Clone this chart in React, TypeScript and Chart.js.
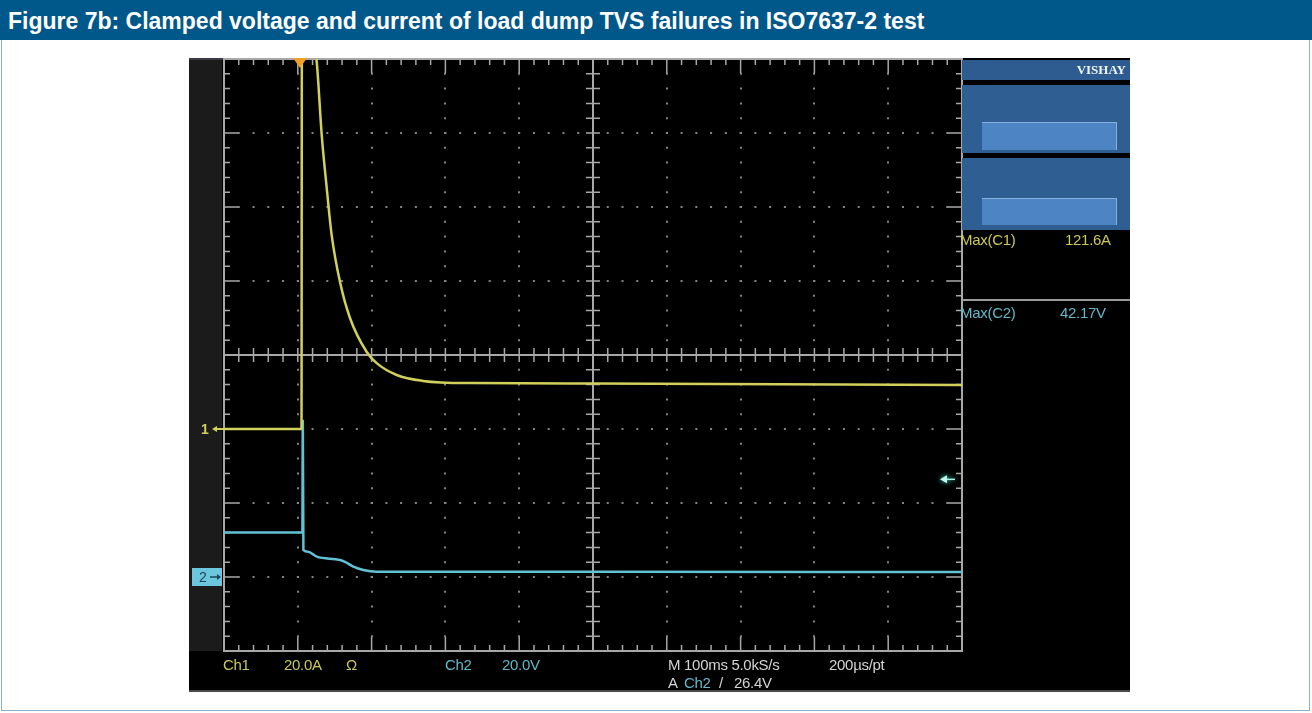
import React, { useEffect, useRef } from 'react';
import { Chart, registerables } from 'chart.js';

Chart.register(...registerables);

// ---- scope settings ----
const TIME_MIN = -100; // ms (100 ms/div, 10 divisions)
const TIME_MAX = 900;
const TIME_STEP = 100;
const CURRENT_MIN = -60; // A (Ch1, 20 A/div, 8 divisions)
const CURRENT_MAX = 100;
const CURRENT_STEP = 20;
const VOLTAGE_MIN = -20; // V (Ch2, 20 V/div)
const VOLTAGE_MAX = 140;
const TRIGGER_TIME = 3; // ms
const TRIGGER_LEVEL = 26.4; // V

// ---- Ch1: current (A) ----
const currentTimes = [-100, 5, 5.6, 25.6, 32.4, 39.2, 45.9, 57.2, 70.7, 93.4, 106.9, 134, 169.6, 233, 400, 900];
const currentValues = [0, 0, 121.6, 99.3, 79.5, 65.1, 52.4, 39.7, 30.0, 20.8, 17.8, 14.6, 13.0, 12.4, 12.3, 11.9];

// ---- Ch2: voltage (V) ----
const voltageTimes = [-100, 6.2, 6.8, 7.6, 13.8, 25.6, 57.2, 63.9, 75.2, 88.8, 106.9, 400, 900];
const voltageValues = [12.0, 12.0, 42.17, 7.3, 6.8, 5.5, 4.6, 4.1, 2.8, 1.9, 1.45, 1.4, 1.35];

const YELLOW = '#d2d05c';
const CYAN = '#62c2d4';

const graticulePlugin = {
  id: 'graticule',
  beforeDatasetsDraw(chart: any) {
    const { ctx, chartArea } = chart;
    const { left, right, top, bottom } = chartArea;
    const xs = chart.scales.x;
    const ys = chart.scales.y;
    const cx = xs.getPixelForValue((TIME_MIN + TIME_MAX) / 2);
    const cy = ys.getPixelForValue((CURRENT_MIN + CURRENT_MAX) / 2);
    ctx.save();
    ctx.strokeStyle = '#a8a8a8';
    ctx.lineWidth = 2;
    ctx.strokeRect(left, top, right - left, bottom - top);
    ctx.beginPath();
    ctx.moveTo(left, cy);
    ctx.lineTo(right, cy);
    ctx.moveTo(cx, top);
    ctx.lineTo(cx, bottom);
    ctx.stroke();
    ctx.lineWidth = 1.5;
    ctx.beginPath();
    const nx = Math.round((TIME_MAX - TIME_MIN) / TIME_STEP) * 5;
    for (let i = 0; i <= nx; i++) {
      const px = xs.getPixelForValue(TIME_MIN + (i * TIME_STEP) / 5);
      const major = i % 5 === 0;
      ctx.moveTo(px, cy - 7);
      ctx.lineTo(px, cy + 7);
      const e = major ? 14 : 6;
      ctx.moveTo(px, top);
      ctx.lineTo(px, top + e);
      ctx.moveTo(px, bottom);
      ctx.lineTo(px, bottom - e);
    }
    const ny = Math.round((CURRENT_MAX - CURRENT_MIN) / CURRENT_STEP) * 5;
    for (let i = 0; i <= ny; i++) {
      const py = ys.getPixelForValue(CURRENT_MIN + (i * CURRENT_STEP) / 5);
      const major = i % 5 === 0;
      ctx.moveTo(cx - 7, py);
      ctx.lineTo(cx + 7, py);
      const e = major ? 14 : 6;
      ctx.moveTo(left, py);
      ctx.lineTo(left + e, py);
      ctx.moveTo(right, py);
      ctx.lineTo(right - e, py);
    }
    ctx.stroke();
    ctx.restore();
  },
  afterDatasetsDraw(chart: any) {
    const { ctx, chartArea } = chart;
    const { left, right, top } = chartArea;
    const xs = chart.scales.x;
    const ys = chart.scales.y;
    const y2 = chart.scales.y2;
    ctx.save();
    // trigger position marker
    const tx = xs.getPixelForValue(TRIGGER_TIME);
    ctx.fillStyle = '#f0a028';
    ctx.beginPath();
    ctx.moveTo(tx - 7, top - 1);
    ctx.lineTo(tx + 7, top - 1);
    ctx.lineTo(tx, top + 9);
    ctx.closePath();
    ctx.fill();
    // Ch1 ground marker
    const g1 = ys.getPixelForValue(0);
    ctx.fillStyle = YELLOW;
    ctx.strokeStyle = YELLOW;
    ctx.font = 'bold 14px "Liberation Sans", Arial, sans-serif';
    ctx.textBaseline = 'middle';
    ctx.textAlign = 'center';
    ctx.fillText('1', left - 19, g1 + 1);
    ctx.lineWidth = 2;
    ctx.beginPath();
    ctx.moveTo(left - 10, g1);
    ctx.lineTo(left + 1, g1);
    ctx.stroke();
    ctx.beginPath();
    ctx.moveTo(left - 12, g1);
    ctx.lineTo(left - 7, g1 - 3);
    ctx.lineTo(left - 7, g1 + 3);
    ctx.closePath();
    ctx.fill();
    // Ch2 ground marker
    const g2 = y2.getPixelForValue(0);
    ctx.fillStyle = '#6cc6de';
    ctx.fillRect(left - 32, g2 - 9, 30, 18);
    ctx.fillStyle = '#1c4656';
    ctx.strokeStyle = '#1c4656';
    ctx.font = '14px "Liberation Sans", Arial, sans-serif';
    ctx.fillText('2', left - 21, g2 + 1);
    ctx.lineWidth = 1.5;
    ctx.beginPath();
    ctx.moveTo(left - 14, g2);
    ctx.lineTo(left - 5, g2);
    ctx.stroke();
    ctx.beginPath();
    ctx.moveTo(left - 3, g2);
    ctx.lineTo(left - 7, g2 - 3);
    ctx.lineTo(left - 7, g2 + 3);
    ctx.closePath();
    ctx.fill();
    // trigger level marker
    const tl = y2.getPixelForValue(TRIGGER_LEVEL);
    ctx.shadowColor = '#4fe8d0';
    ctx.shadowBlur = 5;
    ctx.fillStyle = '#c8fff4';
    ctx.strokeStyle = '#a8f4e8';
    ctx.beginPath();
    ctx.moveTo(right - 22, tl);
    ctx.lineTo(right - 15, tl - 4);
    ctx.lineTo(right - 15, tl + 4);
    ctx.closePath();
    ctx.fill();
    ctx.lineWidth = 1.5;
    ctx.beginPath();
    ctx.moveTo(right - 16, tl);
    ctx.lineTo(right - 7, tl);
    ctx.stroke();
    ctx.restore();
  },
};

const readout: React.CSSProperties = {
  position: 'absolute',
  fontFamily: '"Liberation Sans", Arial, sans-serif',
  fontSize: 15,
  lineHeight: '16px',
  whiteSpace: 'nowrap',
  letterSpacing: '-0.3px',
};

export default function App() {
  const canvasRef = useRef<HTMLCanvasElement | null>(null);

  useEffect(() => {
    document.body.style.margin = '0';
    const canvas = canvasRef.current;
    if (!canvas) return;
    const chart = new Chart(canvas, {
      type: 'line',
      data: {
        datasets: [
          {
            label: 'Ch1 current (A)',
            data: currentTimes.map((t, i) => ({ x: t, y: currentValues[i] })),
            yAxisID: 'y',
            borderColor: YELLOW,
            borderWidth: 2.5,
            pointRadius: 0,
            cubicInterpolationMode: 'monotone',
          },
          {
            label: 'Ch2 voltage (V)',
            data: voltageTimes.map((t, i) => ({ x: t, y: voltageValues[i] })),
            yAxisID: 'y2',
            borderColor: CYAN,
            borderWidth: 2.5,
            pointRadius: 0,
            cubicInterpolationMode: 'monotone',
          },
        ],
      },
      options: {
        animation: false,
        responsive: false,
        maintainAspectRatio: false,
        layout: { padding: { left: 35, top: 1, right: 168, bottom: 41 } },
        plugins: { legend: { display: false }, tooltip: { enabled: false } },
        scales: {
          x: {
            type: 'linear',
            min: TIME_MIN,
            max: TIME_MAX,
            ticks: { stepSize: TIME_STEP, display: false },
            grid: { color: '#858585', lineWidth: 2, drawTicks: false },
            border: { display: false, dash: [2, 12.8], dashOffset: 1 },
          },
          y: {
            type: 'linear',
            min: CURRENT_MIN,
            max: CURRENT_MAX,
            ticks: { stepSize: CURRENT_STEP, display: false },
            grid: { color: '#858585', lineWidth: 2, drawTicks: false },
            border: { display: false, dash: [2, 12.76], dashOffset: 1 },
          },
          y2: {
            type: 'linear',
            display: false,
            min: VOLTAGE_MIN,
            max: VOLTAGE_MAX,
          },
        },
      },
      plugins: [graticulePlugin],
    });
    return () => chart.destroy();
  }, []);

  const yellowText = '#cbc85a';
  const cyanText = '#64b8c8';
  const whiteText = '#d4d4d4';

  return (
    <div style={{ position: 'relative', width: 1312, height: 713, background: '#fff', overflow: 'hidden' }}>
      <div style={{ position: 'absolute', left: 0, top: 0, width: 1312, height: 40, background: '#00578a' }}>
        <div
          style={{
            position: 'absolute',
            left: 8,
            top: 10,
            lineHeight: '23px',
            fontFamily: '"Liberation Sans", Arial, sans-serif',
            fontWeight: 'bold',
            fontSize: 23,
            color: '#fff',
            whiteSpace: 'nowrap',
          }}
        >
          Figure 7b: Clamped voltage and current of load dump TVS failures in ISO7637-2 test
        </div>
      </div>
      <div
        style={{
          position: 'absolute',
          left: 1,
          top: 40,
          width: 1309,
          height: 671,
          border: '1px solid #8cb0cc',
          borderTop: 'none',
          boxSizing: 'border-box',
        }}
      />
      <div style={{ position: 'absolute', left: 189, top: 58, width: 941, height: 634, background: '#000' }}>
        <div style={{ position: 'absolute', left: 0, top: 0, width: 773, height: 2, background: '#3a3a48' }} />
        <div style={{ position: 'absolute', left: 0, top: 2, width: 33, height: 591, background: '#1b1b1b' }} />
        <div style={{ position: 'absolute', left: 0, top: 632, width: 941, height: 2, background: '#4a4a4a' }} />
        <canvas
          ref={canvasRef}
          width={941}
          height={634}
          style={{ position: 'absolute', left: 0, top: 0, width: 941, height: 634 }}
        />
        {/* right side menu panel */}
        <div style={{ position: 'absolute', left: 773, top: 2, width: 168, height: 20, background: '#2e5c90' }}>
          <div
            style={{
              position: 'absolute',
              right: 4,
              top: 0,
              lineHeight: '20px',
              fontFamily: '"Liberation Serif", "Times New Roman", serif',
              fontWeight: 'bold',
              fontSize: 13,
              color: '#f0f4ff',
            }}
          >
            VISHAY
          </div>
        </div>
        <div style={{ position: 'absolute', left: 773, top: 27, width: 168, height: 68, background: '#2f5e93' }}>
          <div
            style={{
              position: 'absolute',
              left: 20,
              top: 37,
              width: 135,
              height: 28,
              background: '#4c84c4',
              borderTop: '1px solid #86b0de',
              borderRight: '1px solid #86b0de',
              boxSizing: 'border-box',
            }}
          />
        </div>
        <div style={{ position: 'absolute', left: 773, top: 100, width: 168, height: 72, background: '#2f5e93' }}>
          <div
            style={{
              position: 'absolute',
              left: 20,
              top: 40,
              width: 135,
              height: 27,
              background: '#4c84c4',
              borderTop: '1px solid #86b0de',
              borderRight: '1px solid #86b0de',
              boxSizing: 'border-box',
            }}
          />
        </div>
        <div style={{ ...readout, left: 771, top: 174, color: yellowText }}>Max(C1)</div>
        <div style={{ ...readout, left: 876, top: 174, color: yellowText }}>121.6A</div>
        <div style={{ position: 'absolute', left: 773, top: 241, width: 168, height: 2, background: '#9a9a9a' }} />
        <div style={{ ...readout, left: 771, top: 247, color: cyanText }}>Max(C2)</div>
        <div style={{ ...readout, left: 871, top: 247, color: cyanText }}>42.17V</div>
        {/* bottom readouts */}
        <div style={{ ...readout, left: 34, top: 599, color: yellowText }}>Ch1</div>
        <div style={{ ...readout, left: 95, top: 599, color: yellowText }}>20.0A</div>
        <div style={{ ...readout, left: 157, top: 599, color: yellowText }}>Ω</div>
        <div style={{ ...readout, left: 256, top: 599, color: cyanText }}>Ch2</div>
        <div style={{ ...readout, left: 313, top: 599, color: cyanText }}>20.0V</div>
        <div style={{ ...readout, left: 479, top: 599, color: whiteText }}>M 100ms 5.0kS/s</div>
        <div style={{ ...readout, left: 640, top: 599, color: whiteText }}>200µs/pt</div>
        <div style={{ ...readout, left: 479, top: 617, color: whiteText }}>A</div>
        <div style={{ ...readout, left: 495, top: 617, color: cyanText }}>Ch2</div>
        <div style={{ ...readout, left: 530, top: 617, color: whiteText }}>/</div>
        <div style={{ ...readout, left: 545, top: 617, color: whiteText }}>26.4V</div>
      </div>
    </div>
  );
}
